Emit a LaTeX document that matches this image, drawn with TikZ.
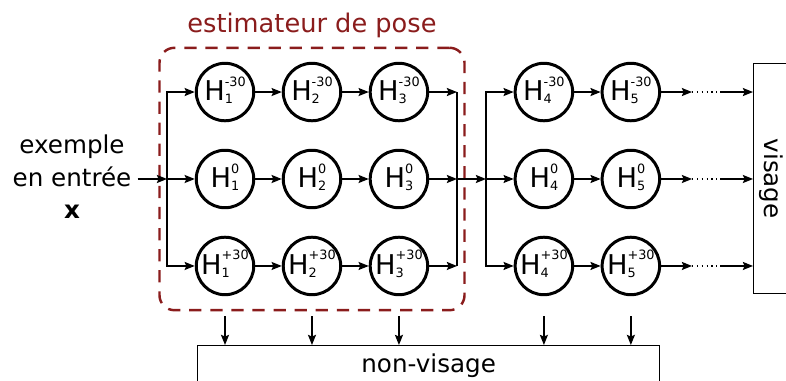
\documentclass[tikz,border=0pt]{standalone}
\usepackage{fontspec}
\setmainfont{DejaVu Sans}
\usepackage{tikz}
\usetikzlibrary{arrows.meta,positioning,fit}
\definecolor{posered}{HTML}{8A1C1C}
\newcommand{\hlab}[2]{H\raisebox{-1.8pt}{\fontsize{7.3}{8}\selectfont\begin{tabular}[b]{@{}l@{}}#2\\[2pt]#1\end{tabular}}}

\begin{document}
\begin{tikzpicture}[
  x=0.02cm, y=-0.02cm,
  hstate/.style={draw, circle, line width=1.7pt, minimum size=1.15cm, inner sep=0pt, font=\fontsize{15.5}{18}\selectfont},
  arr/.style={-{Stealth[length=5.8pt, width=4.6pt, inset=1pt]}, line width=0.75pt},
  bus/.style={line width=0.75pt},
  outbox/.style={draw, line width=0.75pt, inner sep=0pt},
  posebox/.style={draw=posered, line width=1.4pt, dash pattern=on 7pt off 5pt, rounded corners=8.5pt, inner xsep=0.15cm, inner ysep=0.28cm},
  node distance=0.53cm and 0.53cm,
  font=\fontsize{14}{18.5}\selectfont
]
  \useasboundingbox (0,0) rectangle (786,381);
  \clip (0,0) rectangle (786,381);

  \node[hstate] (hz1) at (225,179) {\hlab{1}{0}};
  \node[hstate, above=of hz1] (hn1) {\hlab{1}{-30}};
  \node[hstate, below=of hz1] (hp1) {\hlab{1}{+30}};
  \node[hstate, right=of hn1] (hn2) {\hlab{2}{-30}};
  \node[hstate, right=of hz1] (hz2) {\hlab{2}{0}};
  \node[hstate, right=of hp1] (hp2) {\hlab{2}{+30}};
  \node[hstate, right=of hn2] (hn3) {\hlab{3}{-30}};
  \node[hstate, right=of hz2] (hz3) {\hlab{3}{0}};
  \node[hstate, right=of hp2] (hp3) {\hlab{3}{+30}};
  \node[hstate, right=1.69cm of hn3] (hn4) {\hlab{4}{-30}};
  \node[hstate, right=1.69cm of hz3] (hz4) {\hlab{4}{0}};
  \node[hstate, right=1.69cm of hp3] (hp4) {\hlab{4}{+30}};
  \node[hstate, right=of hn4] (hn5) {\hlab{5}{-30}};
  \node[hstate, right=of hz4] (hz5) {\hlab{5}{0}};
  \node[hstate, right=of hp4] (hp5) {\hlab{5}{+30}};

  \node[align=center] (input) at (72,177) {exemple\\en entrée\\\textbf{x}};
  \coordinate (sa) at (167,179);
  \coordinate (sb) at (457,179);
  \coordinate (sc) at (486,179);
  \coordinate (dl) at (692,179);
  \coordinate (dr) at (720,179);

  \node[posebox, fit=(hn1)(hp3)(sa)(sb)] (pose) {};
  \node[text=posered, font=\fontsize{14.6}{18}\selectfont, above=1.5pt of pose] (title) {estimateur de pose};

  \node[outbox, anchor=north west, minimum width=0.72cm, minimum height=4.6cm] (visage) at (753,63) {\rotatebox{-90}{visage}};
  \node[outbox, anchor=north west, minimum width=9.24cm, minimum height=0.8cm] (nonvis) at (197,345) {non-visage};

  % first bank
  \draw[arr] (input.east |- sa) -- (sa);
  \draw[arr] (sa) |- (hn1);
  \draw[arr] (sa) -- (hz1);
  \draw[arr] (sa) |- (hp1);
  \draw[arr] (hn1) -- (hn2);
  \draw[arr] (hn2) -- (hn3);
  \draw[arr] (hz1) -- (hz2);
  \draw[arr] (hz2) -- (hz3);
  \draw[arr] (hp1) -- (hp2);
  \draw[arr] (hp2) -- (hp3);
  \draw[arr] (hn3) -- (hn3 -| sb);
  \draw[arr] (hz3) -- (sb);
  \draw[arr] (hp3) -- (hp3 -| sb);
  \draw[bus] (hn3 -| sb) -- (hp3 -| sb);

  % second bank
  \draw[arr] (sb) -- (sc);
  \draw[arr] (sc) |- (hn4);
  \draw[arr] (sc) -- (hz4);
  \draw[arr] (sc) |- (hp4);
  \draw[arr] (hn4) -- (hn5);
  \draw[arr] (hz4) -- (hz5);
  \draw[arr] (hp4) -- (hp5);

  % towards visage
  \draw[arr] (hn5) -- (hn5 -| dl);
  \draw[arr] (hz5) -- (dl);
  \draw[arr] (hp5) -- (hp5 -| dl);
  \draw[bus, dotted] (hn5 -| dl) -- (hn5 -| dr);
  \draw[bus, dotted] (dl) -- (dr);
  \draw[bus, dotted] (hp5 -| dl) -- (hp5 -| dr);
  \draw[arr] (hn5 -| dr) -- (hn5 -| visage.west);
  \draw[arr] (dr) -- (visage.west |- dr);
  \draw[arr] (hp5 -| dr) -- (hp5 -| visage.west);

  % towards non-visage
  \draw[arr] ([yshift=-0.4cm]hp1.south) -- (hp1 |- nonvis.north);
  \draw[arr] ([yshift=-0.4cm]hp2.south) -- (hp2 |- nonvis.north);
  \draw[arr] ([yshift=-0.4cm]hp3.south) -- (hp3 |- nonvis.north);
  \draw[arr] ([yshift=-0.4cm]hp4.south) -- (hp4 |- nonvis.north);
  \draw[arr] ([yshift=-0.4cm]hp5.south) -- (hp5 |- nonvis.north);
\end{tikzpicture}
\end{document}
